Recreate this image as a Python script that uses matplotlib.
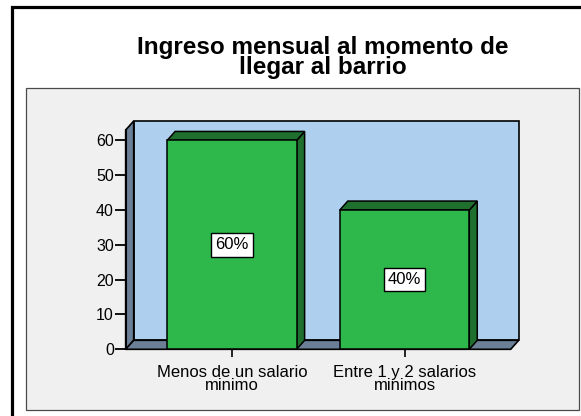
import matplotlib
matplotlib.use("Agg")
import matplotlib.pyplot as plt
from matplotlib.patches import Rectangle, Polygon

categories = ["Menos de un salario\nminimo", "Entre 1 y 2 salarios\nminimos"]
values = [60, 40]
yticks = [0, 10, 20, 30, 40, 50, 60]
title = "Ingreso mensual al momento de\nllegar al barrio"

W, H = 581, 416
plt.rcParams['font.family'] = ['Liberation Sans', 'DejaVu Sans']
fig = plt.figure(figsize=(W / 100, H / 100), dpi=100)
fig.patch.set_facecolor("white")

def fx(px):
    return px / W

def fy(py):
    return 1 - py / H

# outer black frame
fig.add_artist(Rectangle((fx(11.5), -0.1), 1.2, fy(6.5) + 0.1, transform=fig.transFigure,
                         fill=False, edgecolor="black", lw=2.3, zorder=-2))
# inner gray panel
fig.add_artist(Rectangle((fx(26), fy(410)), (579 - 26) / W, (410 - 88) / H,
                         transform=fig.transFigure, facecolor="#f0f0f0",
                         edgecolor="#4a4a4a", lw=0.9, zorder=-1))

fig.text(fx(323), fy(57.5), title, ha="center", va="center", fontsize=17.5,
         fontweight="bold", linespacing=0.88)

ax_left, ax_right, ax_bottom, ax_top = 125.7, 510.7, 349.3, 130.0
ax = fig.add_axes([fx(ax_left), fy(ax_bottom), (ax_right - ax_left) / W,
                   (ax_bottom - ax_top) / H])
ax.set_zorder(2)
ax.patch.set_visible(False)
xlim = (-0.615, 1.615)
ylim = (0, 63)
ax.set_xlim(*xlim)
ax.set_ylim(*ylim)

DX, DY = 8.0, 9.0
aw, ah = ax_right - ax_left, ax_bottom - ax_top
dxa, dya = DX / aw, DY / ah
dxd, dyd = dxa * (xlim[1] - xlim[0]), dya * (ylim[1] - ylim[0])

wall = "#aed0ee"
slate = "#6b8096"
green = "#2eb84b"
dgreen = "#1f6f2f"

ax.add_patch(Rectangle((dxa, dya), 1, 1, transform=ax.transAxes, facecolor=wall,
                       edgecolor="black", lw=1.2, clip_on=False, zorder=0))
ax.add_patch(Polygon([(0, 0), (dxa, dya), (dxa, 1 + dya), (0, 1)], closed=True,
                     transform=ax.transAxes, facecolor=slate, edgecolor="black",
                     lw=1.2, clip_on=False, zorder=1))
ax.add_patch(Polygon([(0, 0), (1, 0), (1 + dxa, dya), (dxa, dya)], closed=True,
                     transform=ax.transAxes, facecolor=slate, edgecolor="black",
                     lw=1.2, clip_on=False, zorder=1))

xs = list(range(len(values)))
bw = 0.75
ax.bar(xs, values, width=bw, color=green, edgecolor="black", lw=1.1, zorder=3)
for x, v in zip(xs, values):
    r = x + bw / 2
    l = x - bw / 2
    ax.add_patch(Polygon([(r, 0), (r + dxd, dyd), (r + dxd, v + dyd), (r, v)], closed=True,
                         facecolor=dgreen, edgecolor="black", lw=1.1, zorder=2.5,
                         clip_on=False))
    ax.add_patch(Polygon([(l, v), (l + dxd, v + dyd), (r + dxd, v + dyd), (r, v)], closed=True,
                         facecolor=dgreen, edgecolor="black", lw=1.1, zorder=2.5,
                         clip_on=False))
    ax.text(x, v / 2, f"{v}%", ha="center", va="center", fontsize=12, zorder=5,
            bbox=dict(boxstyle="square,pad=0.25", facecolor="white", edgecolor="black", lw=1))

for s in ["top", "right", "bottom"]:
    ax.spines[s].set_visible(False)
ax.spines["left"].set_linewidth(1.5)
ax.spines["left"].set_zorder(4)

ax.set_yticks(yticks)
ax.set_yticklabels([str(t) for t in yticks], fontsize=11.5)
ax.tick_params(axis="y", length=8, width=1.3, pad=0.5, color="black")
ax.set_xticks(xs)
ax.set_xticklabels(categories, fontsize=12, linespacing=0.85)
ax.tick_params(axis="x", length=5.5, width=1.2, pad=5.5)

fig.savefig("out.png", dpi=100)
